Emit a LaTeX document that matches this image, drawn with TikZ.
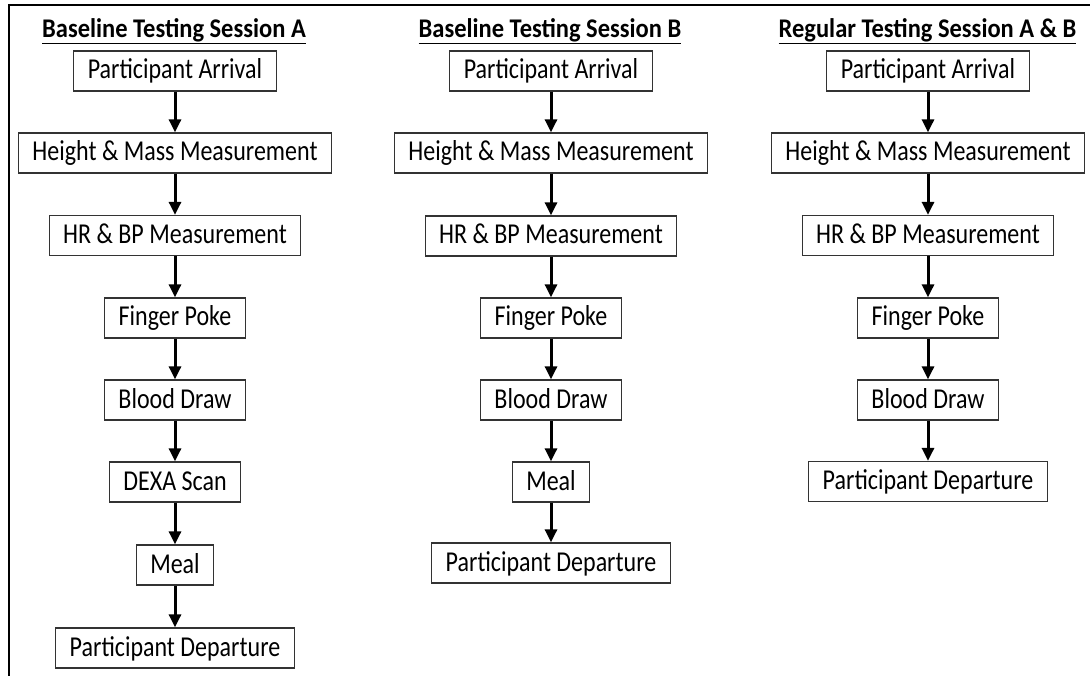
\documentclass[tikz,border=0pt]{standalone}
\usepackage{fontspec}
\setmainfont{Carlito}
\usetikzlibrary{arrows.meta}
\newcommand\tallstep[1]{\scalebox{1}[1.2]{#1}}
\begin{document}
\begin{tikzpicture}[x=1pt,y=-1pt,
  stepbox/.style={draw=black!80, line width=1.3pt, fill=white,
    font=\fontsize{24}{28}\selectfont, inner xsep=14pt, inner ysep=0pt,
    minimum height=40pt, text height=21pt, text depth=5pt},
  head/.style={font=\bfseries\fontsize{24.5}{28}\selectfont, inner sep=0pt, anchor=base},
  flow/.style={line width=3pt, -{Triangle[width=12pt,length=13pt]}}]
\useasboundingbox (0,0) rectangle (1090,676);
% outer frame (open at right and bottom)
\draw[line width=2pt] (1095,5) -- (9,5) -- (9,682);

% Baseline Testing Session A
\node[head] (ta) at (174,37.5) {\underline{\scalebox{1}[1.1]{Baseline Testing Session A}}};
\node[stepbox] (a1) at (175,71)  {\tallstep{Participant Arrival}};
\node[stepbox] (a2) at (175,153) {\tallstep{Height \& Mass Measurement}};
\node[stepbox] (a3) at (175,235.5) {\tallstep{HR \& BP Measurement}};
\node[stepbox] (a4) at (175,318) {\tallstep{Finger Poke}};
\node[stepbox] (a5) at (175,400) {\tallstep{Blood Draw}};
\node[stepbox] (a6) at (175,482) {\tallstep{DEXA Scan}};
\node[stepbox] (a7) at (175,565) {\tallstep{Meal}};
\node[stepbox] (a8) at (175,648) {\tallstep{Participant Departure}};
\foreach \u/\v in {a1/a2,a2/a3,a3/a4,a4/a5,a5/a6,a6/a7,a7/a8}
  \draw[flow] (\u) -- (\v);

% Baseline Testing Session B
\node[head] (tb) at (550,37.5) {\underline{\scalebox{1}[1.1]{Baseline Testing Session B}}};
\node[stepbox] (b1) at (551,71)  {\tallstep{Participant Arrival}};
\node[stepbox] (b2) at (551,153) {\tallstep{Height \& Mass Measurement}};
\node[stepbox] (b3) at (551,236) {\tallstep{HR \& BP Measurement}};
\node[stepbox] (b4) at (551,318) {\tallstep{Finger Poke}};
\node[stepbox] (b5) at (551,400) {\tallstep{Blood Draw}};
\node[stepbox] (b6) at (551,482) {\tallstep{Meal}};
\node[stepbox] (b7) at (551,563) {\tallstep{Participant Departure}};
\foreach \u/\v in {b1/b2,b2/b3,b3/b4,b4/b5,b5/b6,b6/b7}
  \draw[flow] (\u) -- (\v);

% Regular Testing Session A & B
\node[head] (tc) at (927.5,37.5) {\underline{\scalebox{1}[1.1]{Regular Testing Session A \& B}}};
\node[stepbox] (c1) at (928,71)  {\tallstep{Participant Arrival}};
\node[stepbox] (c2) at (928,153) {\tallstep{Height \& Mass Measurement}};
\node[stepbox] (c3) at (928,235.5) {\tallstep{HR \& BP Measurement}};
\node[stepbox] (c4) at (928,318) {\tallstep{Finger Poke}};
\node[stepbox] (c5) at (928,400) {\tallstep{Blood Draw}};
\node[stepbox] (c6) at (928,481.5) {\tallstep{Participant Departure}};
\foreach \u/\v in {c1/c2,c2/c3,c3/c4,c4/c5,c5/c6}
  \draw[flow] (\u) -- (\v);
\end{tikzpicture}
\end{document}
